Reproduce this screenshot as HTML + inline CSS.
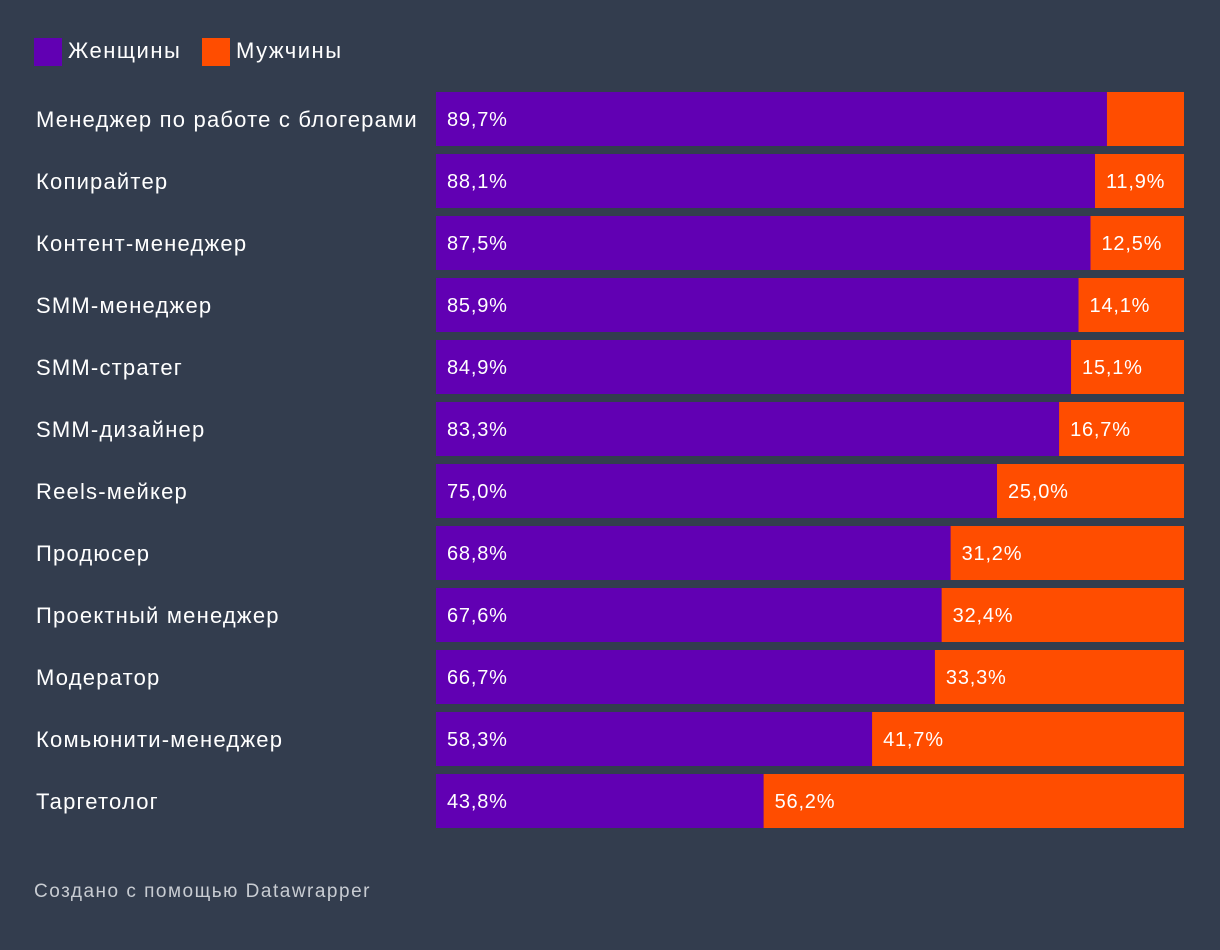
<!DOCTYPE html>
<html><head><meta charset="utf-8"><style>
body{margin:0;width:1220px;height:950px;background:#333d4e;font-family:"Liberation Sans",sans-serif;overflow:hidden}
</style></head><body>
<svg width="1220" height="950" id="c" style="position:absolute;left:0;top:0">
<g>
<rect x="34" y="38" width="28" height="28" fill="#6100b3"/>
<text x="68" y="58" fill="#fff" font-size="22" letter-spacing="1.5">Женщины</text>
<rect x="202" y="38" width="28" height="28" fill="#ff4d00"/>
<text x="236" y="58" fill="#fff" font-size="22" letter-spacing="1.5">Мужчины</text>
</g>
<g id="bars"></g>
<text x="34" y="897" fill="#c8ccd2" font-size="19" letter-spacing="1.5">Создано с помощью Datawrapper</text>
</svg>
<script>
const categories=["Менеджер по работе с блогерами","Копирайтер","Контент-менеджер","SMM-менеджер","SMM-стратег","SMM-дизайнер","Reels-мейкер","Продюсер","Проектный менеджер","Модератор","Комьюнити-менеджер","Таргетолог"];
const women=[89.7,88.1,87.5,85.9,84.9,83.3,75.0,68.8,67.6,66.7,58.3,43.8];
const men=[10.3,11.9,12.5,14.1,15.1,16.7,25.0,31.2,32.4,33.3,41.7,56.2];
const showMen=[false,true,true,true,true,true,true,true,true,true,true,true];
const X0=436,W=748,Y0=92,STEP=62,H=54;
const xs=v=>X0+v/100*W;
const ys=i=>Y0+i*STEP;
const g=document.getElementById('bars');
const NS='http://www.w3.org/2000/svg';
const fmt=v=>v.toFixed(1).replace('.',',')+'%';
categories.forEach((c,i)=>{
  const y=ys(i);
  const t=document.createElementNS(NS,'text');
  
  
  t.setAttribute('x',36);t.setAttribute('y',y+H/2+8);t.setAttribute('fill','#fff');t.setAttribute('font-size','22');t.setAttribute('letter-spacing','1.2');
  t.textContent=c;g.appendChild(t);
  const a=document.createElementNS(NS,'rect');
  
  
  a.setAttribute('x',X0);a.setAttribute('y',y);a.setAttribute('width',xs(women[i])-X0);a.setAttribute('height',H);a.setAttribute('fill','#6100b3');
  g.appendChild(a);
  const b=document.createElementNS(NS,'rect');
  
  
  b.setAttribute('x',xs(women[i]));b.setAttribute('y',y);b.setAttribute('width',xs(100)-xs(women[i]));b.setAttribute('height',H);b.setAttribute('fill','#ff4d00');
  g.appendChild(b);
  const v1=document.createElementNS(NS,'text');
  
  
  v1.setAttribute('x',X0+11);v1.setAttribute('y',y+H/2+7);v1.setAttribute('fill','#fff');v1.setAttribute('font-size','20');v1.setAttribute('letter-spacing','0.8');
  v1.textContent=fmt(women[i]);g.appendChild(v1);
  if(showMen[i]){
    const v2=document.createElementNS(NS,'text');
    
    
    v2.setAttribute('x',xs(women[i])+11);v2.setAttribute('y',y+H/2+7);v2.setAttribute('fill','#fff');v2.setAttribute('font-size','20');v2.setAttribute('letter-spacing','0.8');
    v2.textContent=fmt(men[i]);g.appendChild(v2);
  }
});
</script>
</body></html>
